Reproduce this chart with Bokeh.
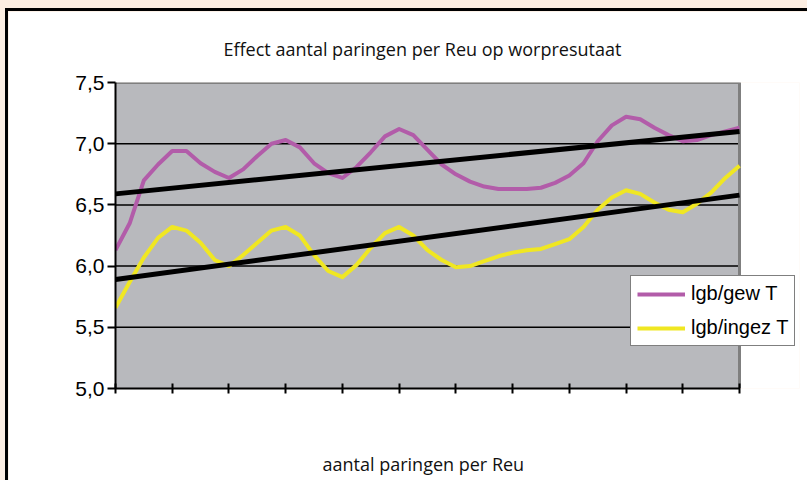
from bokeh.plotting import figure
from bokeh.layouts import column
from bokeh.models import FixedTicker, CustomJSTickFormatter, Range1d, Legend, LegendItem, Title
from bokeh.embed import file_html
from bokeh.resources import INLINE

# --- data ---
x_pos = [0, 0.25, 0.5, 0.75, 1, 1.25, 1.5, 1.75, 2, 2.25, 2.5, 2.75, 3, 3.25, 3.5, 3.75,
         4, 4.25, 4.5, 4.75, 5, 5.25, 5.5, 5.75, 6, 6.25, 6.5, 6.75, 7, 7.25, 7.5, 7.75,
         8, 8.25, 8.5, 8.75, 9, 9.25, 9.5, 9.75, 10, 10.25, 10.5, 10.75, 11]
lgb_gew = [6.13, 6.35, 6.70, 6.83, 6.94, 6.94, 6.84, 6.77, 6.72, 6.79, 6.90, 7.00, 7.03, 6.97, 6.84, 6.76,
           6.72, 6.81, 6.93, 7.06, 7.12, 7.07, 6.95, 6.83, 6.75, 6.69, 6.65, 6.63, 6.63, 6.63, 6.64, 6.68,
           6.74, 6.84, 7.02, 7.15, 7.22, 7.20, 7.13, 7.07, 7.02, 7.03, 7.07, 7.10, 7.13]
lgb_ingez = [5.66, 5.87, 6.07, 6.23, 6.32, 6.29, 6.19, 6.05, 6.00, 6.09, 6.19, 6.29, 6.32, 6.25, 6.09, 5.96,
             5.91, 6.01, 6.15, 6.27, 6.32, 6.25, 6.13, 6.05, 5.99, 6.00, 6.04, 6.08, 6.11, 6.13, 6.14, 6.18,
             6.22, 6.32, 6.46, 6.56, 6.62, 6.59, 6.52, 6.46, 6.44, 6.51, 6.60, 6.72, 6.82]
trend_x = [0, 11]
trend_gew = [6.59, 7.10]
trend_ingez = [5.89, 6.58]
x_ticks = [0, 1, 2, 3, 4, 5, 6, 7, 8, 9, 10, 11]
y_ticks = [5.0, 5.5, 6.0, 6.5, 7.0, 7.5]
x_min, x_max = 0, 11
y_min, y_max = 5.0, 7.5

title_text = "Effect aantal paringen per Reu op worpresutaat"
x_label = "aantal paringen per Reu"
series_names = ["lgb/gew T", "lgb/ingez T"]

PURPLE = "#B25CA9"
YELLOW = "#F0E722"
GRAY = "#B8B9BD"
CREAM = "#FCEEE2"

# layout: frame 107..791 px of an 802 px canvas; data region covers 624 px of it
FRAME_W = 684
DATA_W = 624
x_end = x_max * FRAME_W / DATA_W

p = figure(width=802, height=472, output_backend="svg", toolbar_location=None,
           x_range=Range1d(x_min, x_end), y_range=Range1d(y_min, y_max),
           min_border_left=107, min_border_right=11, min_border_top=71, min_border_bottom=95,
           background_fill_color="white", border_fill_color="white")
p.styles = {"border-left": "3px solid black", "border-top": "3px solid black"}

p.title = Title(text=title_text, align="left", text_font="Open Sans",
                text_font_size="18px", text_font_style="normal", text_color="#111111",
                standoff=44, offset=108)

p.outline_line_color = None

# gray plot area (data region only)
p.quad(left=[x_min], right=[x_max], bottom=[y_min], top=[y_max],
       fill_color=GRAY, line_color=None, level="image")

# horizontal grid lines limited to the data region
grid_vals = y_ticks[1:-1]
p.segment(x0=[x_min] * len(grid_vals), x1=[x_max] * len(grid_vals), y0=grid_vals, y1=grid_vals,
          line_color="black", line_width=1.5, level="underlay")

# y axis
p.yaxis.ticker = FixedTicker(ticks=y_ticks)
p.yaxis.formatter = CustomJSTickFormatter(code="return tick.toFixed(1).replace('.', ',');")
p.yaxis.major_label_text_font = "Liberation Sans"
p.yaxis.major_label_text_font_size = "21px"
p.yaxis.major_label_text_color = "black"
p.yaxis.major_tick_out = 8
p.yaxis.major_tick_in = 0
p.yaxis.minor_tick_line_color = None
p.yaxis.axis_line_width = 2
p.yaxis.major_tick_line_width = 2
p.yaxis.major_label_standoff = 3

# x axis (no tick labels)
p.xaxis.ticker = FixedTicker(ticks=x_ticks)
p.xaxis.bounds = (x_min, x_max)
p.xaxis.major_label_text_font_size = "0px"
p.xaxis.major_label_standoff = 0
p.xaxis.major_tick_in = 5
p.xaxis.major_tick_out = 5
p.xaxis.major_tick_line_width = 2
p.xaxis.minor_tick_line_color = None
p.xaxis.axis_line_width = 2

# x axis title, centred under the data region (top padding keeps the gap below the axis)
p.add_layout(Title(text=x_label, align="left", vertical_align="bottom", text_font="Open Sans",
                   text_font_size="18px", text_font_style="normal", text_color="#111111",
                   standoff=0, offset=207, padding=(0, 0, 56, 0)), "below")

p.xgrid.grid_line_color = None
p.ygrid.grid_line_color = None

# gray top/right border of the plot area
p.line([x_min, x_max, x_max], [y_max, y_max, y_min], line_color="#7F7F7F", line_width=3)

r1 = p.line(x_pos, lgb_gew, line_color=PURPLE, line_width=4, line_join="round")
r2 = p.line(x_pos, lgb_ingez, line_color=YELLOW, line_width=4, line_join="round")
p.line(trend_x, trend_gew, line_color="black", line_width=5)
p.line(trend_x, trend_ingez, line_color="black", line_width=5)

legend = Legend(items=[LegendItem(label=series_names[0], renderers=[r1]),
                       LegendItem(label=series_names[1], renderers=[r2])],
                location=(515, 42), orientation="vertical",
                label_text_font="Liberation Sans", label_text_font_size="20px",
                label_text_color="black", glyph_width=48, glyph_height=22,
                label_height=22, label_standoff=6, spacing=11, padding=6, margin=0,
                border_line_color="black", border_line_width=1.5,
                background_fill_color="white", background_fill_alpha=1)
p.add_layout(legend, "center")

layout = column(p, styles={"background-color": CREAM, "padding-left": "5px", "padding-top": "8px"})

open("out.html", "w").write(file_html(layout, INLINE))
